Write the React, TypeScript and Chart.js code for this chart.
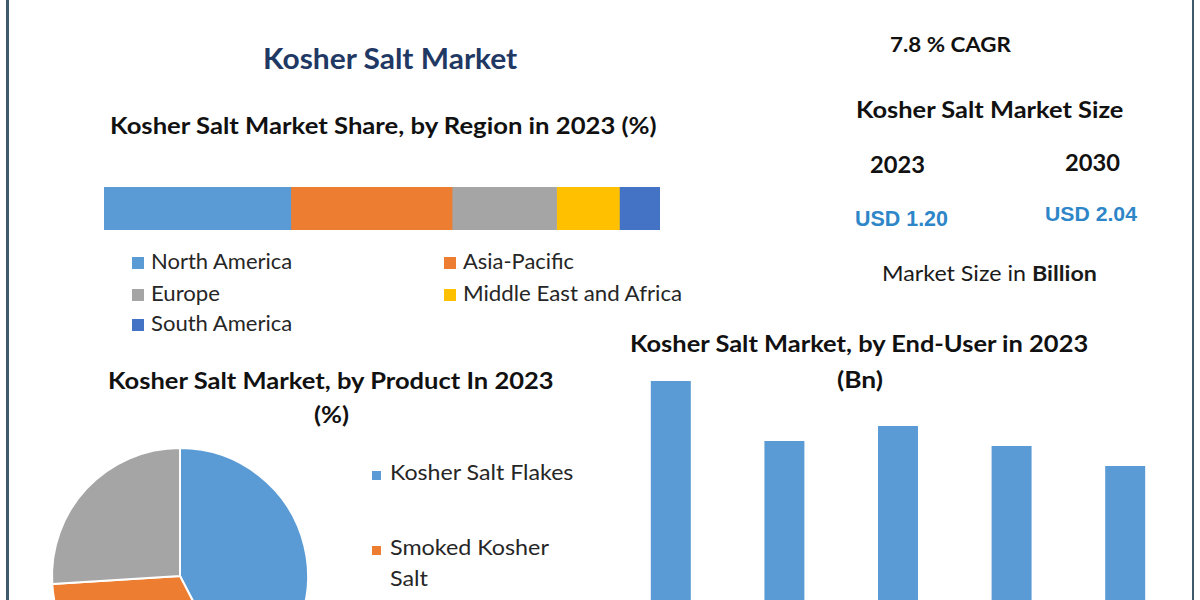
import React, { useEffect, useRef } from "react";
import { Chart, registerables } from "chart.js";

Chart.register(...registerables);

// ---------- data ----------
const regions = ["North America", "Asia-Pacific", "Europe", "Middle East and Africa", "South America"];
const regionShares = [33.6, 29.0, 18.8, 11.3, 7.3];
const regionColors = ["#5B9BD5", "#ED7D31", "#A5A5A5", "#FFC000", "#4472C4"];

const products = ["Kosher Salt Flakes", "Smoked Kosher Salt", "Others"];
const productShares = [42.4, 31.6, 26.0];
const productColors = ["#5B9BD5", "#ED7D31", "#A5A5A5"];

const endUsers = ["Household", "Food Service", "Food Processing", "Retail", "Others"];
const endUserValues = [0.29, 0.23, 0.245, 0.225, 0.205];

const cagrText = "7.8 % CAGR";
const sizeYears = ["2023", "2030"];
const sizeValues = ["USD 1.20", "USD 2.04"];

const FAMILY = "Lato";
// font metrics: cap height ratio, cap-centre offset from line-box top (line-height 1)
const METRICS: Record<string, { cap: number; mid: number }> = {
  Lato: { cap: 0.7165, mid: 0.529 },
  "Liberation Sans": { cap: 0.716, mid: 0.488 },
};

// ---------- helpers ----------
let measureCtx: CanvasRenderingContext2D | null = null;
function measure(text: string, bold: boolean, family: string): number {
  if (!measureCtx) measureCtx = document.createElement("canvas").getContext("2d");
  measureCtx!.font = `${bold ? "bold " : ""}100px ${family}`;
  return measureCtx!.measureText(text).width;
}

type Part = [string, boolean];
function Label(props: {
  parts: Part[];
  x: number;
  y: number;
  w: number;
  h: number;
  color?: string;
  family?: string;
}) {
  const family = props.family || FAMILY;
  const m = METRICS[family];
  const size = props.h / m.cap;
  const natural = (props.parts.reduce((s, p) => s + measure(p[0], p[1], family), 0) * size) / 100;
  const sx = props.w / natural;
  return (
    <div
      style={{
        position: "absolute",
        left: props.x,
        top: props.y - size * m.mid,
        fontFamily: family,
        fontSize: size,
        lineHeight: 1,
        whiteSpace: "nowrap",
        color: props.color || "#111",
        transform: `scaleX(${sx})`,
        transformOrigin: "0 0",
      }}
    >
      {props.parts.map((p, i) => (
        <span key={i} style={{ fontWeight: p[1] ? 700 : 400 }}>
          {p[0]}
        </span>
      ))}
    </div>
  );
}

function ChartCanvas(props: { config: any; left: number; top: number; width: number; height: number }) {
  const ref = useRef<HTMLCanvasElement>(null);
  useEffect(() => {
    const chart = new Chart(ref.current!, props.config);
    return () => chart.destroy();
  }, []);
  return (
    <canvas
      ref={ref}
      width={props.width}
      height={props.height}
      style={{ position: "absolute", left: props.left, top: props.top, width: props.width, height: props.height }}
    />
  );
}

function Swatch(props: { x: number; y: number; s: number; color: string }) {
  return (
    <div
      style={{
        position: "absolute",
        left: props.x,
        top: props.y - props.s / 2,
        width: props.s,
        height: props.s,
        background: props.color,
      }}
    />
  );
}

// ---------- configs ----------
const commonOpts = {
  responsive: false,
  animation: false,
  layout: { padding: 0 },
  plugins: { legend: { display: false }, tooltip: { enabled: false }, title: { display: false } },
};

const regionConfig = {
  type: "bar",
  data: {
    labels: ["2023"],
    datasets: regions.map((r, i) => ({
      label: r,
      data: [regionShares[i]],
      backgroundColor: regionColors[i],
      borderWidth: 0,
      barPercentage: 1,
      categoryPercentage: 1,
    })),
  },
  options: {
    ...commonOpts,
    indexAxis: "y",
    scales: {
      x: { stacked: true, display: false, min: 0, max: 100 },
      y: { stacked: true, display: false },
    },
  },
};

const productConfig = {
  type: "pie",
  data: {
    labels: products,
    datasets: [
      {
        data: productShares,
        backgroundColor: productColors,
        borderColor: "#ffffff",
        borderWidth: 2,
      },
    ],
  },
  options: { ...commonOpts, radius: 128 },
};

const endUserConfig = {
  type: "bar",
  data: {
    labels: endUsers,
    datasets: [
      {
        label: "End-User",
        data: endUserValues,
        backgroundColor: "#5B9BD5",
        borderWidth: 0,
        barPercentage: 0.352,
        categoryPercentage: 1,
      },
    ],
  },
  options: {
    ...commonOpts,
    scales: {
      x: { display: false },
      y: { display: false, min: 0, max: 0.3 },
    },
  },
};

export default function App() {
  const legendRows = [
    { i: 0, x: 132, y: 262 },
    { i: 1, x: 444, y: 262 },
    { i: 2, x: 132, y: 294 },
    { i: 3, x: 444, y: 294 },
    { i: 4, x: 132, y: 324 },
  ];
  const legendWidths = [142, 111, 69, 220, 142];
  return (
    <div
      style={{
        position: "absolute",
        left: 0,
        top: 0,
        width: 1200,
        height: 600,
        overflow: "hidden",
        background: "#ffffff",
      }}
    >
      {/* frame lines */}
      <div style={{ position: "absolute", left: 6, top: 0, width: 3, height: 600, background: "#3E5A6C" }} />
      <div style={{ position: "absolute", left: 1192, top: 0, width: 2, height: 600, background: "#3E5A6C" }} />

      {/* main title */}
      <Label parts={[["Kosher Salt Market", true]]} x={263} y={59} w={255} h={21} color="#1F3864" />
      <Label parts={[["Kosher Salt Market Share, by Region in 2023 (%)", true]]} x={110} y={126.5} w={548} h={17} />

      {/* region bar */}
      <ChartCanvas config={regionConfig} left={104} top={187} width={556} height={43} />
      {legendRows.map((r, k) => (
        <React.Fragment key={k}>
          <Swatch x={r.x} y={r.y + 1} s={12} color={regionColors[r.i]} />
          <Label
            parts={[[regions[r.i], false]]}
            x={r.x + 19}
            y={r.y}
            w={legendWidths[r.i]}
            h={15.5}
            color="#262626"
          />
        </React.Fragment>
      ))}

      {/* market size block */}
      <Label parts={[[cagrText, true]]} x={890} y={45.5} w={121} h={15} />
      <Label parts={[["Kosher Salt Market Size", true]]} x={856} y={111} w={268} h={16} />
      <Label parts={[[sizeYears[0], true]]} x={870} y={165.5} w={55} h={17} />
      <Label parts={[[sizeYears[1], true]]} x={1065} y={164} w={55} h={17} />
      <Label parts={[[sizeValues[0], true]]} x={855} y={219} w={93} h={16} color="#2E86C8" family="Liberation Sans" />
      <Label parts={[[sizeValues[1], true]]} x={1045} y={214.5} w={92} h={15} color="#2E86C8" family="Liberation Sans" />
      <Label
        parts={[
          ["Market Size in ", false],
          ["Billion", true],
        ]}
        x={882}
        y={274.5}
        w={215}
        h={15}
        color="#1a1a1a"
      />

      {/* product pie */}
      <Label parts={[["Kosher Salt Market, by Product In 2023", true]]} x={108} y={382} w={447} h={17} />
      <Label parts={[["(%)", true]]} x={314} y={416} w={35} h={17} />
      <ChartCanvas config={productConfig} left={30} top={426} width={300} height={300} />
      <Swatch x={372} y={475} s={9} color={productColors[0]} />
      <Label parts={[[products[0], false]]} x={390} y={473} w={184} h={15} color="#262626" />
      <Swatch x={372} y={550} s={9} color={productColors[1]} />
      <Label parts={[["Smoked Kosher", false]]} x={390} y={548} w={159} h={15} color="#262626" />
      <Label parts={[["Salt", false]]} x={390} y={579} w={38} h={15} color="#262626" />

      {/* end-user bars */}
      <Label parts={[["Kosher Salt Market, by End-User in 2023", true]]} x={630} y={345} w={460} h={17} />
      <Label parts={[["(Bn)", true]]} x={837} y={381} w={46} h={17} />
      <ChartCanvas config={endUserConfig} left={614} top={371} width={568} height={300} />
    </div>
  );
}
